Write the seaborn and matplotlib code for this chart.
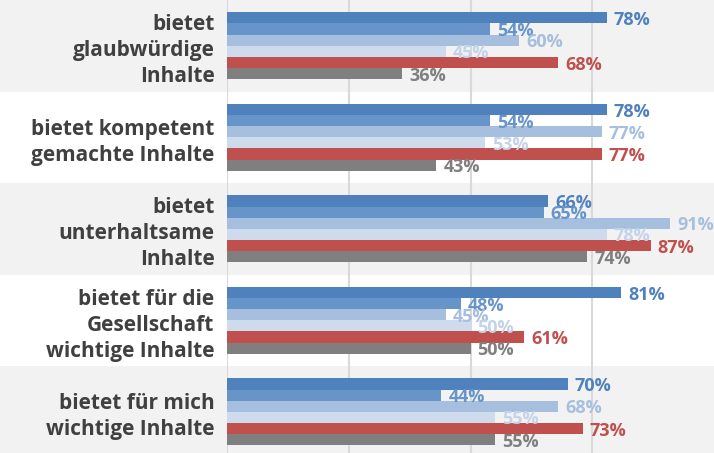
import pandas as pd
import seaborn as sns
import matplotlib.pyplot as plt
from matplotlib.patches import Rectangle

# categories (statements) and the six answer groups
categories = [
    "bietet\nglaubwürdige\nInhalte",
    "bietet kompetent\ngemachte Inhalte",
    "bietet\nunterhaltsame\nInhalte",
    "bietet für die\nGesellschaft\nwichtige Inhalte",
    "bietet für mich\nwichtige Inhalte",
]
groups = ["Gruppe 1", "Gruppe 2", "Gruppe 3", "Gruppe 4", "Gruppe 5", "Gruppe 6"]

# values per group (percent), one entry per category
gruppe1 = [78, 78, 66, 81, 70]
gruppe2 = [54, 54, 65, 48, 44]
gruppe3 = [60, 77, 91, 45, 68]
gruppe4 = [45, 53, 78, 50, 55]
gruppe5 = [68, 77, 87, 61, 73]
gruppe6 = [36, 43, 74, 50, 55]

bar_colors = ["#4F81BD", "#6795C9", "#A7BFDF", "#CEDBEC", "#C0504D", "#7F7F7F"]
label_colors = ["#4F81BD", "#6795C9", "#A7BFDF", "#C3D4EA", "#C0504D", "#7F7F7F"]

rows = []
for g, vals in zip(groups, [gruppe1, gruppe2, gruppe3, gruppe4, gruppe5, gruppe6]):
    for c, v in zip(categories, vals):
        rows.append({"Kategorie": c, "Gruppe": g, "Wert": v})
df = pd.DataFrame(rows)

sns.set_style("white")
plt.rcParams["font.family"] = ["Open Sans", "DejaVu Sans"]

fig = plt.figure(figsize=(7.14, 4.53), dpi=100)
ax = fig.add_axes([0.318, 0.0, 0.682, 1.0])

# alternating background bands (reach into the label area)
for i in range(len(categories)):
    if i % 2 == 0:
        ax.add_patch(Rectangle((-0.5, i - 0.5), 1.5, 1.0, transform=ax.get_yaxis_transform(),
                               facecolor="#F2F2F2", edgecolor="none", clip_on=False, zorder=0))

for xv in [0, 25, 50, 75]:
    ax.axvline(xv, color="#D9D9D9", linewidth=1.5, zorder=1)

sns.barplot(data=df, x="Wert", y="Kategorie", hue="Gruppe", order=categories,
            hue_order=groups, palette=bar_colors, saturation=1, orient="h", width=0.73,
            edgecolor="none", legend=False, ax=ax, zorder=2)

# value labels, a bit right of and slightly below the bar centre
for cont, col in zip(ax.containers, label_colors):
    for bar in cont:
        w = bar.get_width()
        yc = bar.get_y() + bar.get_height() / 2
        ax.annotate(f"{w:.0f}%", xy=(w, yc), xytext=(5, -1.5), textcoords="offset points",
                    ha="left", va="center", color=col, fontsize=13, fontweight="bold",
                    zorder=3)

ax.set_xlim(0, 100)
ax.set_ylim(4.45, -0.5)
ax.set_xlabel("")
ax.set_ylabel("")
ax.set_xticks([])
ax.set_yticks(range(len(categories)))
ax.set_yticklabels(categories, fontsize=15, fontweight="bold", color="#404040",
                   multialignment="right", linespacing=1.3)
ax.tick_params(axis="y", length=0, pad=9)
for s in ax.spines.values():
    s.set_visible(False)

fig.savefig("out.png", dpi=100)
